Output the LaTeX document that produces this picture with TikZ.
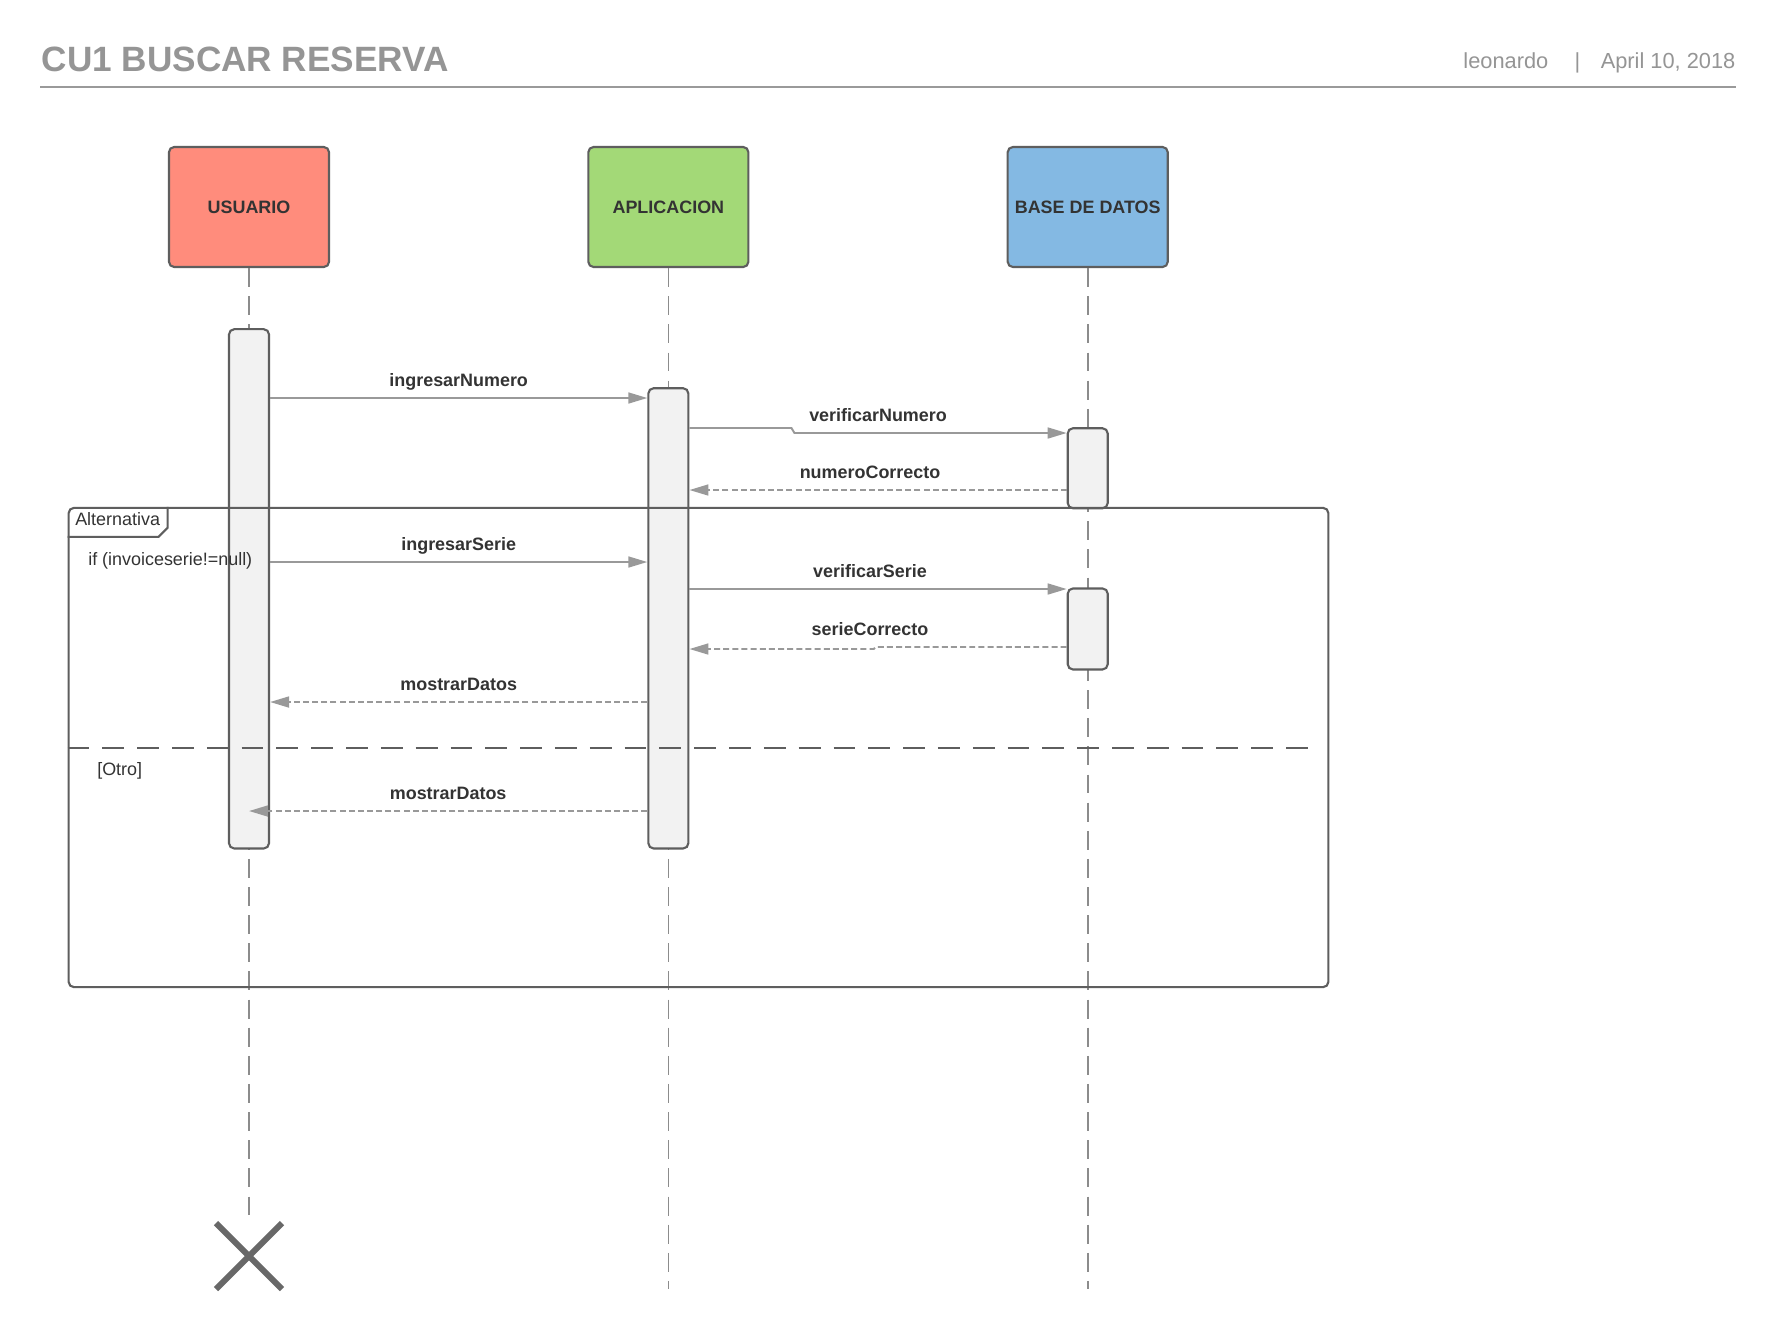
\documentclass[tikz,border=0pt]{standalone}
\usepackage{fontspec}
\setmainfont{Liberation Sans}
\usepackage{xcolor}
\usepackage{tikz}
\usetikzlibrary{positioning,calc,arrows.meta}

\definecolor{titlegray}{HTML}{959595}
\definecolor{rulegray}{HTML}{9A9A9A}
\definecolor{edgegray}{HTML}{5E5E5E}
\definecolor{lifegray}{HTML}{8C8C8C}
\definecolor{msggray}{HTML}{999999}
\definecolor{txtgray}{HTML}{333333}
\definecolor{usrred}{HTML}{FF8C7C}
\definecolor{aplgreen}{HTML}{A3D977}
\definecolor{bdblue}{HTML}{84B9E3}
\definecolor{actgray}{HTML}{F2F2F2}
\definecolor{killgray}{HTML}{686868}

\begin{document}
\begin{tikzpicture}[x=0.01cm,y=-0.01cm,
  hdr/.style={inner sep=0pt,text=titlegray,font=\fontsize{6.2}{7.5}\selectfont},
  head/.style={draw=edgegray,line width=0.6pt,rounded corners=1.5pt,minimum width=1.6cm,minimum height=1.2cm,inner sep=0pt,text=txtgray,font=\fontsize{5.1}{6}\selectfont\bfseries},
  act/.style={draw=edgegray,line width=0.6pt,rounded corners=1.5pt,fill=actgray,minimum width=0.4cm,inner sep=0pt},
  life/.style={lifegray,line width=0.45pt,dash pattern=on 5.4pt off 2.6pt},
  msg/.style={msggray,line width=0.55pt,-{Triangle[length=5.4pt,width=3.1pt]}},
  ret/.style={msg,dash pattern=on 1.7pt off 0.9pt},
  lbl/.style={midway,anchor=base,inner sep=0pt,yshift=0.12cm,text=txtgray,font=\fontsize{5.1}{6}\selectfont\bfseries},
  frag/.style={anchor=base west,inner sep=0pt,text=txtgray,font=\fontsize{5.1}{6}\selectfont},
  fragline/.style={edgegray,line width=0.6pt},
]
\fill[white] (0,0) rectangle (1777,1336);
\useasboundingbox (0,0) rectangle (1777,1336);

\node(title) [anchor=base west,inner sep=0pt,text=titlegray,font=\fontsize{10}{12}\selectfont\bfseries] at (41,71) {CU1 BUSCAR RESERVA};
\node(date)  [hdr,anchor=base east]     at (1736,68) {April 10, 2018};
\node(bar)   [hdr,base left=0.19cm of date]          {|};
\node(autor) [hdr,base left=0.25cm of bar]           {leonardo};
\coordinate (hl) at (40,87);
\coordinate (hr) at (1736,87);
\draw[rulegray,line width=0.6pt] (hl) -- (hr);

\node(U) [head,fill=usrred]   at (249,207)          {USUARIO};
\node(A) [head,fill=aplgreen,right=2.57cm of U]     {APLICACION};
\node(B) [head,fill=bdblue,right=2.57cm of A]       {BASE DE DATOS};

\coordinate (end)  at (0,1289);
\coordinate (xend) at (0,1215);
\draw[life] (U.south) -- (U.south |- xend);
\foreach \n in {A,B}
  \draw[life] (\n.south) -- (\n.south |- end);

\node(UA)  [act,minimum height=5.19cm,below=0.6cm of U]    {};
\node(AA)  [act,minimum height=4.6cm,below=1.19cm of A]    {};
\node(BA1) [act,minimum height=0.8cm,below=1.59cm of B]    {};
\node(BA2) [act,minimum height=0.81cm,below=0.78cm of BA1] {};

\node(alt) [draw=edgegray,line width=0.6pt,rounded corners=1.5pt,minimum width=12.59cm,minimum height=4.79cm,inner sep=0pt] at (698.5,747.5) {};
\draw[fragline] (alt.north west) ++(0,30) -- ++(91,0) -- ++(9,-9) -- ++(0,-21);
\node(altlbl) [frag] at ($(alt.north west)+(7,19)$) {Alternativa};
\node(cond)   [frag] at ($(alt.north west)+(20,59)$) {if (invoiceserie!=null)};
\coordinate (s) at (0,748);
\draw[fragline,dash pattern=on 6.2pt off 3.7pt] (alt.west |- s) -- ([xshift=-0.11cm]alt.east |- s);
\node(otro)   [frag] at ($(alt.west |- s)+(29,27)$) {[Otro]};

\coordinate (m1)  at (0,398);
\coordinate (m2)  at (0,428);
\coordinate (m2b) at (0,433);
\coordinate (m3)  at (0,490);
\coordinate (m4)  at (0,562);
\coordinate (m5)  at (0,589);
\coordinate (m6)  at (0,647);
\coordinate (m6b) at (0,649);
\coordinate (m7)  at (0,702);
\coordinate (m8)  at (0,811);
\draw[msg] (UA.east |- m1) -- (AA.west |- m1) node[lbl] {ingresarNumero};
\draw[msg] (AA.east |- m2) -- ++(102,0) -- ++(3,5) -- (BA1.west |- m2b);
\path (AA.east |- m2b) -- (BA1.west |- m2b) node[lbl] {verificarNumero};
\draw[ret] (BA1.west |- m3) -- (AA.east |- m3) node[lbl,xshift=-0.08cm] {numeroCorrecto};
\draw[msg] (UA.east |- m4) -- (AA.west |- m4) node[lbl] {ingresarSerie};
\draw[msg] (AA.east |- m5) -- (BA2.west |- m5) node[lbl,xshift=-0.08cm] {verificarSerie};
\draw[ret] (BA2.west |- m6) -- ++(-191,0) -- ++(-2,2) -- (AA.east |- m6b);
\path (BA2.west |- m6) -- (AA.east |- m6) node[lbl,xshift=-0.08cm] {serieCorrecto};
\draw[ret] (AA.west |- m7) -- (UA.east |- m7) node[lbl] {mostrarDatos};
\draw[ret] (AA.west |- m8) -- (UA |- m8) node[lbl] {mostrarDatos};

\coordinate (xc) at (0,1256);
\coordinate (X) at (U |- xc);
\draw[killgray,line width=1.7pt] ($(X)+(-33,-33)$) -- ($(X)+(33,33)$) ($(X)+(-33,33)$) -- ($(X)+(33,-33)$);
\end{tikzpicture}
\end{document}
